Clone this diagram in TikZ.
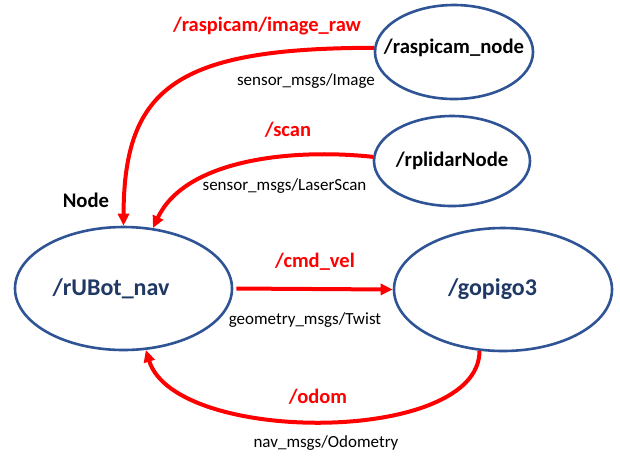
\documentclass[tikz,border=0pt]{standalone}
\usepackage{fontspec}
\setmainfont{Carlito}
\usetikzlibrary{shapes.geometric,arrows.meta}
\definecolor{ellblue}{HTML}{2F5496}
\definecolor{navytxt}{HTML}{1F3864}
\definecolor{topicred}{HTML}{FF0000}
\tikzset{
  rosnode/.style={ellipse, draw=ellblue, line width=2.6pt, inner sep=0pt},
  topic/.style={text=topicred, font=\fontsize{20.5}{24}\selectfont\bfseries},
  msgtype/.style={text=black, font=\fontsize{17}{20}\selectfont},
  link/.style={draw=topicred, line width=4pt, -{Triangle[length=12pt,width=11pt]}},
}
\begin{document}
\begin{tikzpicture}[x=1pt,y=-1pt]
\useasboundingbox[fill=white] (0,0) rectangle (620,459);

\node[rosnode, minimum width=217pt, minimum height=123pt,
  label={[xshift=-12.5pt,text=navytxt,font=\fontsize{24}{28}\selectfont\bfseries]center:/rUBot\_nav}]
  (rubot) at (123.5,288.5) {};
\node[rosnode, minimum width=218pt, minimum height=123pt,
  label={[xshift=-10.5pt,text=navytxt,font=\fontsize{24}{28}\selectfont\bfseries]center:/gopigo3}]
  (gopigo) at (503,289.5) {};
\node[rosnode, minimum width=158pt, minimum height=94pt,
  label={[yshift=4pt,text=black,font=\fontsize{20.7}{24}\selectfont\bfseries]center:/raspicam\_node}]
  (rasp) at (454,52) {};
\node[rosnode, minimum width=156pt, minimum height=90pt,
  label={[text=black,font=\fontsize{20.7}{24}\selectfont\bfseries]center:/rplidarNode}]
  (lidar) at (452,161) {};

\node[text=black, font=\fontsize{20.7}{24}\selectfont\bfseries] (nodelbl) at (86,200) {Node};

% raspicam topic
\draw[link] (rasp.177) .. controls (177,48) and (124,87) .. (rubot.north);
\node[topic] (t1) at (267,26) {/raspicam/image\_raw};
\node[msgtype] (m1) at (306,81) {sensor\_msgs/Image};

% scan topic
\draw[link] (lidar.177) .. controls (290,148) and (185,160) .. (rubot.64);
\node[topic] (t2) at (288,130) {/scan};
\node[msgtype] (m2) at (284.5,186) {sensor\_msgs/LaserScan};

% cmd_vel topic
\draw[link, shorten <=3pt] (rubot.east) -- (gopigo.west);
\node[topic] (t3) at (315,262) {/cmd\_vel};
\node[msgtype] (m3) at (305,320) {geometry\_msgs/Twist};

% odom topic
\draw[link] (gopigo.249) .. controls (480,445) and (175,445) .. (rubot.290);
\node[topic] (t4) at (318,397) {/odom};
\node[msgtype] (m4) at (326,443) {nav\_msgs/Odometry};
\end{tikzpicture}
\end{document}
